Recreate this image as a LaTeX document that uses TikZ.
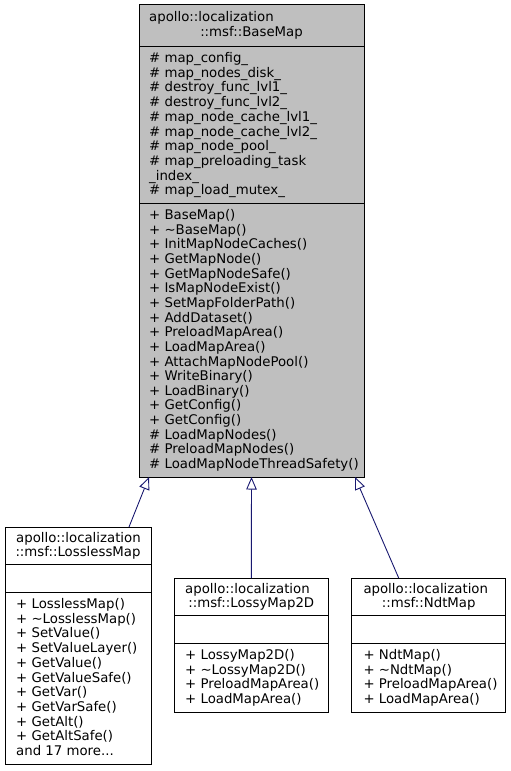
\documentclass[tikz,border=0pt]{standalone}
\usepackage{fontspec}
\setmainfont{DejaVu Sans}
\usepackage{tikz}
\usetikzlibrary{positioning,calc,arrows.meta}
\usepackage{xcolor}
\definecolor{basegray}{HTML}{BFBFBF}
\definecolor{inhblue}{HTML}{191970}

\begin{document}
\begin{tikzpicture}[
    x=1pt, y=-1pt,
    Cbox/.style={draw=black, line width=0.9pt, inner sep=0pt, outer sep=0pt, anchor=north west},
    Bbox/.style={Cbox, fill=basegray},
    sep/.style={line width=0.9pt, black},
    inh/.style={-{Triangle[open, length=12.5pt, width=10.5pt]}, line width=0.9pt, inhblue},
    txt/.style={font=\fontsize{13.3}{14.7}\selectfont, inner sep=0pt, anchor=base west},
    ctxt/.style={txt, anchor=base},
]
\useasboundingbox (0,0) rectangle (511,771);
\node[Bbox, minimum width=225pt, minimum height=473pt] (base) at (139,4) {};
\draw[sep] (base.west |- 0,46) -- (base.east |- 0,46);
\draw[sep] (base.west |- 0,203) -- (base.east |- 0,203);
\node[txt] (baseT1) at (149, 21.7) {apollo::localization};
\node[ctxt] (baseT2) at (251.5, 36.3) {::msf::BaseMap};
\foreach \t [count=\i from 0] in {\# map\_config\_, \# map\_nodes\_disk\_,
    \# destroy\_func\_lvl1\_, \# destroy\_func\_lvl2\_, \# map\_node\_cache\_lvl1\_,
    \# map\_node\_cache\_lvl2\_, \# map\_node\_pool\_, \# map\_preloading\_task,
    \_index\_, \# map\_load\_mutex\_}
  \node[txt] (baseA\i) at (149, {62.5+14.7*\i}) {\t};
\foreach \t [count=\i from 0] in {+ BaseMap(), + \textasciitilde BaseMap(),
    + InitMapNodeCaches(), + GetMapNode(), + GetMapNodeSafe(), + IsMapNodeExist(),
    + SetMapFolderPath(), + AddDataset(), + PreloadMapArea(), + LoadMapArea(),
    + AttachMapNodePool(), + WriteBinary(), + LoadBinary(), + GetConfig(),
    + GetConfig(), \# LoadMapNodes(), \# PreloadMapNodes(), \# LoadMapNodeThreadSafety()}
  \node[txt] (baseM\i) at (149, {219.5+14.65*\i}) {\t};

\node[Cbox, fill=white, minimum width=146pt, minimum height=237pt] (lossless) at (5,527) {};
\draw[sep] (lossless.west |- 0,564) -- (lossless.east |- 0,564);
\draw[sep] (lossless.west |- 0,592) -- (lossless.east |- 0,592);
\node[txt] (losslessT1) at (16, 542.2) {apollo::localization};
\node[ctxt] (losslessT2) at (78, 556.9) {::msf::LosslessMap};
\foreach \t [count=\i from 0] in {+ LosslessMap(), + \textasciitilde LosslessMap(),
    + SetValue(), + SetValueLayer(), + GetValue(), + GetValueSafe(), + GetVar(),
    + GetVarSafe(), + GetAlt(), + GetAltSafe()}
  \node[txt] (losslessM\i) at (16, {608.5+14.7*\i}) {\t};
\node[txt] (losslessMore) at (16, 755.5) {and 17 more...};

\node[Cbox, fill=white, minimum width=154pt, minimum height=134pt] (lossy) at (174.3,578) {};
\draw[sep] (lossy.west |- 0,615) -- (lossy.east |- 0,615);
\draw[sep] (lossy.west |- 0,643) -- (lossy.east |- 0,643);
\node[txt] (lossyT1) at (185, 593.2) {apollo::localization};
\node[ctxt] (lossyT2) at (251.3, 607.9) {::msf::LossyMap2D};
\foreach \t [count=\i from 0] in {+ LossyMap2D(), + \textasciitilde LossyMap2D(),
    + PreloadMapArea(), + LoadMapArea()}
  \node[txt] (lossyM\i) at (185, {659.5+14.7*\i}) {\t};

\node[Cbox, fill=white, minimum width=154pt, minimum height=134pt] (ndt) at (351.7,578) {};
\draw[sep] (ndt.west |- 0,615) -- (ndt.east |- 0,615);
\draw[sep] (ndt.west |- 0,643) -- (ndt.east |- 0,643);
\node[txt] (ndtT1) at (363.3, 593.2) {apollo::localization};
\node[ctxt] (ndtT2) at (428.7, 607.9) {::msf::NdtMap};
\foreach \t [count=\i from 0] in {+ NdtMap(), + \textasciitilde NdtMap(),
    + PreloadMapArea(), + LoadMapArea()}
  \node[txt] (ndtM\i) at (363.3, {659.5+14.7*\i}) {\t};

\draw[inh] ([xshift=124pt]lossless.north west) -- ([xshift=10pt]base.south west);
\draw[inh] (lossy.north) -- (base.south);
\draw[inh] ([xshift=47pt]ndt.north west) -- ([xshift=-9pt]base.south east);
\end{tikzpicture}
\end{document}
